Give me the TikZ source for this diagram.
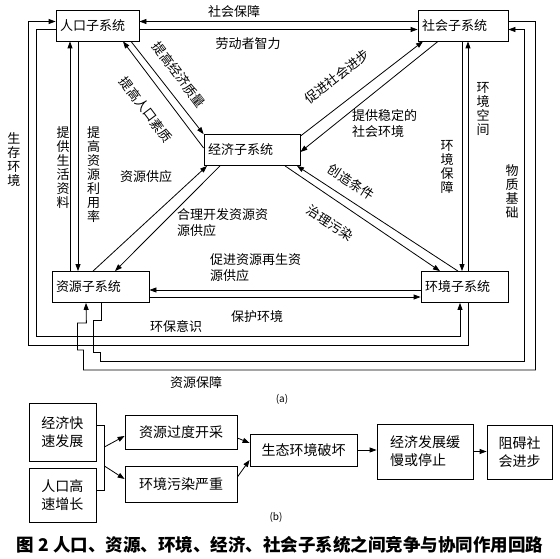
\documentclass[tikz,border=0pt]{standalone}
\usepackage{fontspec}
\setmainfont{Noto Sans CJK SC}
\usepackage{tikz}
\usetikzlibrary{arrows.meta}
\tikzstyle{sysbox} = [rectangle, draw=black, line width=0.8pt, minimum height=31pt, inner xsep=4pt, align=left, font=\fontsize{13}{15}\selectfont]
\tikzstyle{stepbox} = [rectangle, draw=black, line width=0.8pt, align=left, font=\fontsize{14}{18}\selectfont]
\tikzstyle{lbl} = [inner sep=0pt, font=\fontsize{13}{16}\selectfont]
\tikzstyle{vlbl} = [inner sep=0pt, align=center, font=\fontsize{13}{14}\selectfont]
\tikzstyle{link} = [line width=0.8pt]
\tikzstyle{arrow} = [line width=0.8pt, ->, >={Triangle[length=7pt,width=5pt]}]

\begin{document}
\begin{tikzpicture}[x=1pt, y=-1pt]
\useasboundingbox (0,0) rectangle (560,559);

% --------- (a) subsystems ----------
\node (POP) [sysbox, text width=75pt] at (97.5,25.5) {人口子系统};
\node (SOC) [sysbox, text width=82pt] at (463,25.5) {社会子系统};
\node (ECO) [sysbox, text width=88pt] at (252,150) {经济子系统};
\node (RES) [sysbox, text width=89pt] at (100.5,287) {资源子系统};
\node (ENV) [sysbox, text width=79pt] at (464.5,287) {环境子系统};

% Edges between the boxes
\draw [arrow] ([yshift=4pt]SOC.west) -- ([yshift=4pt]POP.east);
\draw [arrow] ([yshift=-4pt]POP.east) -- ([yshift=-4pt]SOC.west);
\draw [arrow] ([xshift=-30.5pt]RES.north) -- ([xshift=-27.5pt]POP.south);
\draw [arrow] ([xshift=-19.5pt]POP.south) -- ([xshift=-22.5pt]RES.north);
\draw [arrow] ([yshift=2pt]ECO.west) -- ([xshift=25.5pt]POP.south);
\draw [arrow] ([xshift=33.5pt]POP.south) -- (ECO.north west);
\draw [arrow] ([yshift=-2pt]ECO.north east) -- ([xshift=-40pt]SOC.south);
\draw [arrow] ([xshift=-25pt]SOC.south) -- ([yshift=-2pt]ECO.east);
\draw [arrow] ([xshift=-7.5pt]RES.north) -- ([xshift=-45pt]ECO.south);
\draw [arrow] ([xshift=-32pt]ECO.south) -- ([xshift=14.5pt]RES.north);
\draw [arrow] ([xshift=-6.5pt]ENV.north) -- ([xshift=45pt]ECO.south);
\draw [arrow] ([xshift=33pt]ECO.south) -- ([xshift=-24.5pt]ENV.north);
\draw [arrow] ([yshift=-3pt]ENV.west) -- ([yshift=-3pt]RES.east);
\draw [arrow] ([yshift=-10pt]RES.east) -- ([yshift=-10pt]ENV.west);
\draw [arrow] ([xshift=-1pt]SOC.south) -- ([xshift=-2.5pt]ENV.north);
\draw [arrow] ([xshift=3.5pt]ENV.north) -- ([xshift=5pt]SOC.south);

% Outer loops
\draw [arrow] ([xshift=3.5pt]ENV.south) -- ++(0,42.5) -- ++(-440,0) |- ([yshift=4pt]POP.west);
\draw [arrow] ([yshift=-4pt]POP.west) -- ++(-19,0) -- ++(0,306.5) -| ([xshift=-4.5pt]ENV.south);
\draw [arrow] ([xshift=0.5pt]RES.south) -- ++(0,17.5) -- ++(-8,0) -- ++(0,32) -- ++(7,0) -- ++(0,9)
  -- ++(424,0) |- ([yshift=-4pt]SOC.east);
\draw [arrow] ([yshift=4pt]SOC.east) -- ++(27,0) -- ++(0,348.5) -- ++(-452,0) -- ++(0,-20)
  -- ++(-6,0) -- ++(0,-27) -- ++(9,0) -- ([xshift=-14.5pt]RES.south);

% Edge labels
\node (SOCSEC_TXT) [lbl] at (234,12) {社会保障};
\node (LABOUR_TXT) [lbl] at (248,44) {劳动者智力};
\node (LIVING_TXT) [vlbl] at (63,168) {提\\供\\生\\活\\资\\料};
\node (USERATE_TXT) [vlbl] at (93.5,175) {提\\高\\资\\源\\利\\用\\率};
\node (ECOQ_TXT) [lbl, rotate=-53] at (179,75) {提高经济质量};
\node (POPQ_TXT) [lbl, rotate=-53] at (146,110) {提高人口素质};
\node (PROGRESS_TXT) [lbl, rotate=38] at (337,77) {促进社会进步};
\node (STABLE_TXT) [lbl, align=left, anchor=west] at (352,124) {提供稳定的\\社会环境};
\node (SUPPLY_TXT) [lbl] at (146,177) {资源供应};
\node (DEVELOP_TXT) [lbl, align=left, anchor=west] at (177,223) {合理开发资源资\\源供应};
\node (COND_TXT) [lbl, rotate=-33] at (351,182) {创造条件};
\node (CLEAN_TXT) [lbl, rotate=-33] at (330,223) {治理污染};
\node (RENEW_TXT) [lbl, align=left, anchor=west] at (210,268) {促进资源再生资\\源供应};
\node (PROTECT_TXT) [lbl] at (257,317) {保护环境};
\node (ENVSEC_TXT) [vlbl] at (447,167) {环\\境\\保\\障};
\node (SPACE_TXT) [vlbl] at (483,109) {环\\境\\空\\间};
\node (LIVE_TXT) [vlbl] at (14,160) {生\\存\\环\\境};
\node (MATTER_TXT) [vlbl] at (512,191) {物\\质\\基\\础};
\node (AWARE_TXT) [lbl] at (176,327) {环保意识};
\node (RESSEC_TXT) [lbl] at (196,383) {资源保障};
\node (A_TXT) [font=\fontsize{10}{12}\selectfont] at (282,399) {(a)};

% --------- (b) chain ----------
\node (FAST_ECO) [stepbox, minimum width=67pt, minimum height=58pt] at (62.5,432) {经济快\\速发展};
\node (FAST_POP) [stepbox, minimum width=67pt, minimum height=54pt] at (62.5,495) {人口高\\速增长};
\node (OVER_MINE) [stepbox, minimum width=112pt, minimum height=34pt] at (181,432) {资源过度开采};
\node (POLLUTE) [stepbox, minimum width=112pt, minimum height=36pt] at (181,484) {环境污染严重};
\node (ECO_DAMAGE) [stepbox, minimum width=107pt, minimum height=32pt] at (303.5,450) {生态环境破坏};
\node (SLOW_ECO) [stepbox, minimum width=96pt, minimum height=55pt] at (425,451.5) {经济发展缓\\慢或停止};
\node (HINDER) [stepbox, minimum width=65pt, minimum height=54pt] at (519.5,452) {阻碍社\\会进步};
\node (B_TXT) [font=\fontsize{10}{12}\selectfont] at (276,517) {(b)};

\draw [link] ([yshift=7pt]FAST_ECO.east) -- ++(8,0) coordinate (BR_TOP) |- ([yshift=5pt]FAST_POP.east);
\draw [arrow] ([yshift=-22pt]BR_TOP) -- ([yshift=-4pt]OVER_MINE.west);
\draw [arrow] ([yshift=-41pt]BR_TOP) -- ([yshift=5pt]POLLUTE.west);
\draw [arrow] ([yshift=-6pt]OVER_MINE.east) -- ([yshift=7pt]ECO_DAMAGE.west);
\draw [arrow] ([yshift=7pt]POLLUTE.east) -- ([yshift=-10pt]ECO_DAMAGE.west);
\draw [arrow] (ECO_DAMAGE.east) -- (ECO_DAMAGE.east -| SLOW_ECO.west);
\draw [arrow] (SLOW_ECO.east) -- (SLOW_ECO.east -| HINDER.west);

\node (CAPTION) [font=\fontsize{17.5}{20}\selectfont\bfseries] at (280,545) {图 2 人口、资源、环境、经济、社会子系统之间竞争与协同作用回路};

\end{tikzpicture}
\end{document}
